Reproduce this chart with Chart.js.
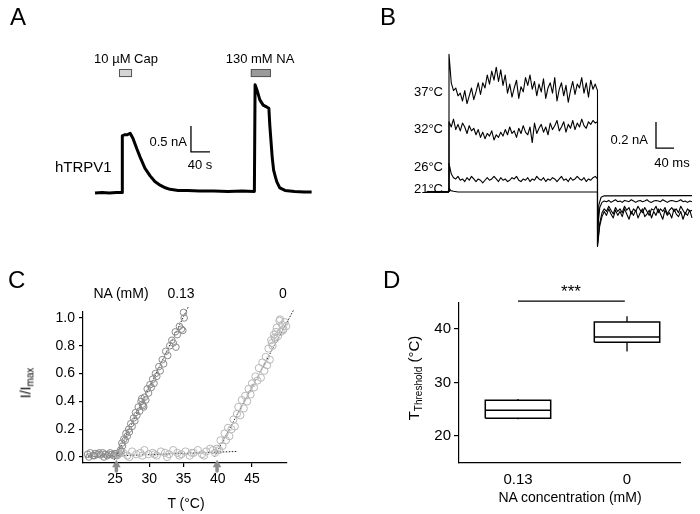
<!DOCTYPE html>
<html>
<head>
<meta charset="utf-8">
<script src="https://cdn.jsdelivr.net/npm/chart.js@4"></script>
<style>
  body { margin: 0; background: #fff; font-family: 'Liberation Sans', Arial, sans-serif; }
  #fig { position: relative; width: 700px; height: 514px; overflow: hidden; }
  canvas { position: absolute; }
  .t { position: absolute; line-height: 1; white-space: nowrap; color: #000; }
  sub { font-size: 10px; vertical-align: -3px; }
</style>
</head>
<body>
<div id="fig">
  <canvas id="chartA" width="350" height="240" style="left:0;top:0"></canvas>
  <canvas id="chartB" width="350" height="252" style="left:350px;top:0"></canvas>
  <canvas id="chartC" width="350" height="264" style="left:0;top:250px"></canvas>
  <canvas id="chartD" width="350" height="264" style="left:350px;top:250px"></canvas>
</div>
<script>
// ---- Panel A: whole-cell current trace (s, nA)
const aTime = [0, 15, 30, 45, 57, 57.5, 62, 68, 74, 80, 88, 95, 105, 116, 126, 137, 148, 158, 175, 195,
  220, 250, 280, 310, 334, 335.5, 337, 342, 347, 354, 360, 366, 368, 373, 376, 380, 383, 389, 400, 420, 440, 456];
const aCur = [0.0, 0.01, 0.0, 0.01, 0.01, 1.1, 1.12, 1.12, 1.15, 1.05, 0.85, 0.69, 0.48, 0.33, 0.22, 0.15, 0.1, 0.07, 0.05, 0.05,
  0.04, 0.04, 0.03, 0.04, 0.03, 0.03, 2.08, 1.95, 1.79, 1.69, 1.66, 1.63, 1.3, 0.69, 0.44, 0.3, 0.21, 0.1, 0.05, 0.03, 0.02, 0.02];
const aAppStart = [50.5, 328];
const aAppEnd = [78, 370.5];
const aAppColor = ['#d4d4d4', '#9a9a9a'];
const aScaleBar = { t: 202, i: 0.79, dt: 40, di: 0.5 };

// ---- Panel B: current traces during a voltage step (ms, nA)
const bDt = 5;
const bStepEnd = 330;
const bHoldT = [-50, 0];
const bHoldI = [0, 0];
const b37On = [1.06, 0.84, 0.78, 0.80, 0.74, 0.76, 0.70, 0.78, 0.68, 0.74,
  0.80, 0.71, 0.77, 0.84, 0.75, 0.84, 0.80, 0.90, 0.83, 0.93,
  0.86, 0.96, 0.85, 0.94, 0.82, 0.90, 0.76, 0.83, 0.73, 0.80,
  0.86, 0.72, 0.81, 0.77, 0.88, 0.82, 0.90, 0.79, 0.85, 0.74,
  0.83, 0.77, 0.87, 0.72, 0.80, 0.84, 0.76, 0.88, 0.70, 0.79,
  0.84, 0.74, 0.82, 0.69, 0.78, 0.85, 0.75, 0.83, 0.80, 0.88,
  0.76, 0.84, 0.73, 0.86, 0.79, 0.83, 0.78];
const b32On = [0.54, 0.50, 0.56, 0.48, 0.52, 0.47, 0.53, 0.50, 0.45, 0.51,
  0.47, 0.49, 0.44, 0.48, 0.42, 0.46, 0.41, 0.45, 0.43, 0.47,
  0.40, 0.44, 0.42, 0.46, 0.43, 0.48, 0.44, 0.50, 0.45, 0.47,
  0.42, 0.49, 0.45, 0.51, 0.46, 0.44, 0.50, 0.38, 0.53, 0.45,
  0.49, 0.52, 0.46, 0.50, 0.44, 0.53, 0.48, 0.51, 0.55, 0.47,
  0.50, 0.54, 0.46, 0.52, 0.49, 0.55, 0.48, 0.53, 0.50, 0.56,
  0.51, 0.49, 0.54, 0.52, 0.55, 0.53, 0.54];
const b26On = [0.22, 0.14, 0.11, 0.10, 0.12, 0.09, 0.10, 0.08, 0.11, 0.09,
  0.12, 0.10, 0.08, 0.10, 0.09, 0.07, 0.09, 0.11, 0.09, 0.10,
  0.12, 0.10, 0.08, 0.11, 0.09, 0.10, 0.08, 0.09, 0.11, 0.10,
  0.12, 0.09, 0.08, 0.10, 0.09, 0.11, 0.08, 0.10, 0.09, 0.12,
  0.10, 0.09, 0.11, 0.08, 0.10, 0.09, 0.11, 0.10, 0.08, 0.10,
  0.12, 0.09, 0.10, 0.08, 0.11, 0.09, 0.10, 0.12, 0.10, 0.09,
  0.11, 0.08, 0.10, 0.09, 0.11, 0.12, 0.10];
const b37Tail = [-0.42, -0.26, -0.19, -0.15, -0.18, -0.13, -0.17, -0.20, -0.14, -0.18,
  -0.15, -0.19, -0.13, -0.17, -0.21, -0.15, -0.18, -0.14, -0.20, -0.16,
  -0.13, -0.19, -0.17, -0.14, -0.20, -0.15, -0.18, -0.13, -0.17, -0.21,
  -0.14, -0.18, -0.16, -0.20, -0.13, -0.17, -0.19, -0.15, -0.21, -0.16,
  -0.18, -0.14, -0.20];
const b32Tail = [-0.40, -0.24, -0.16, -0.13, -0.15, -0.11, -0.14, -0.17, -0.12, -0.15,
  -0.13, -0.16, -0.11, -0.14, -0.12, -0.17, -0.13, -0.15, -0.11, -0.14,
  -0.16, -0.12, -0.15, -0.18, -0.13, -0.14, -0.11, -0.16, -0.13, -0.15,
  -0.12, -0.17, -0.14, -0.12, -0.15, -0.13, -0.16, -0.11, -0.14, -0.17,
  -0.13, -0.15, -0.14];
const b26Tail = [-0.30, -0.12, -0.08, -0.07, -0.075, -0.065, -0.08, -0.07, -0.06, -0.075,
  -0.07, -0.08, -0.065, -0.07, -0.075, -0.06, -0.07, -0.08, -0.07, -0.065,
  -0.075, -0.07, -0.06, -0.075, -0.08, -0.07, -0.065, -0.07, -0.075, -0.06,
  -0.07, -0.08, -0.07, -0.065, -0.07, -0.075, -0.07, -0.06, -0.075, -0.07,
  -0.08, -0.07, -0.075];
const b21T = [0, 0, 4, 10, 20, 330, 330, 333, 338, 345, 540];
const b21I = [0, 0.03, 0.01, 0.005, 0, 0, -0.42, -0.1, -0.04, -0.03, -0.028];
const bScaleBar = { t: 460, i: 0.338, dt: 40, di: 0.2 };

// ---- Panel C: normalised current vs temperature
const cLoT = [21.0, 21.4, 21.8, 22.1, 22.5, 22.9, 23.2, 23.6, 23.9, 24.3, 24.6, 25.0, 25.3, 25.6, 25.9, 21.2, 22.0, 22.7, 23.4, 24.1, 24.8, 25.5];
const cLoI = [0.02, 0.03, 0.01, 0.025, 0.02, 0.015, 0.03, 0.02, 0.01, 0.03, 0.02, 0.025, 0.01, 0.03, 0.04, 0.0, 0.01, 0.03, 0.0, 0.02, 0.01, 0.02];
const cNaT = [25.8, 26.0, 26.1, 26.3, 26.5, 26.6, 26.8, 27.0, 27.1, 27.3, 27.5, 27.7, 27.9, 28.0, 28.2, 28.4, 28.6, 28.8, 29.0, 29.1,
  29.3, 29.5, 29.7, 29.9, 30.1, 30.3, 30.5, 30.7, 30.9, 31.1, 31.4, 31.6, 31.9, 32.1, 32.4, 32.7, 33.0, 33.3, 33.5, 33.8,
  34.1, 34.4, 34.7, 35.0, 35.1, 34.9, 33.9, 29.2, 28.9];
const cNaI = [0.05, 0.10, 0.08, 0.13, 0.12, 0.17, 0.15, 0.20, 0.18, 0.24, 0.22, 0.28, 0.26, 0.32, 0.30, 0.36, 0.33, 0.40, 0.38, 0.37,
  0.43, 0.41, 0.49, 0.46, 0.52, 0.50, 0.56, 0.53, 0.60, 0.58, 0.65, 0.62, 0.70, 0.67, 0.76, 0.73, 0.80, 0.84, 0.82, 0.90,
  0.88, 0.94, 0.92, 1.04, 1.00, 0.91, 0.79, 0.36, 0.42];
const cCtlBaseT = [25.5, 26.2, 26.8, 27.5, 28.1, 28.7, 29.3, 29.9, 30.5, 31.1, 31.7, 32.3, 32.9, 33.5, 34.1, 34.7, 35.3, 35.9, 36.5, 37.1,
  37.7, 38.3, 38.9, 39.3, 27.1, 29.0, 30.8, 32.6, 34.4, 36.2, 38.0];
const cCtlBaseI = [0.02, 0.03, 0.01, 0.04, 0.02, 0.03, 0.05, 0.02, 0.03, 0.01, 0.04, 0.03, 0.02, 0.05, 0.03, 0.02, 0.04, 0.01, 0.03, 0.05,
  0.02, 0.04, 0.06, 0.05, 0.0, 0.01, 0.02, 0.0, 0.01, 0.03, 0.01];
const cCtlT = [39.6, 39.9, 40.2, 40.4, 40.7, 41.0, 41.2, 41.5, 41.7, 42.0, 42.3, 42.5, 42.8, 43.0, 43.3, 43.5, 43.8, 44.0, 44.3, 44.5,
  44.8, 45.0, 45.3, 45.5, 45.8, 46.0, 46.3, 46.5, 46.8, 47.0, 47.2, 47.4, 47.6, 47.8, 48.0, 48.2, 48.4, 48.6, 48.8, 49.0,
  49.2, 49.4, 49.6, 49.8, 50.0, 48.5, 47.9, 49.1, 48.3, 49.5];
const cCtlI = [0.03, 0.06, 0.05, 0.12, 0.08, 0.17, 0.12, 0.21, 0.15, 0.20, 0.27, 0.22, 0.31, 0.36, 0.30, 0.41, 0.35, 0.44, 0.40, 0.49,
  0.45, 0.53, 0.50, 0.58, 0.55, 0.64, 0.57, 0.68, 0.62, 0.72, 0.66, 0.78, 0.70, 0.84, 0.80, 0.88, 0.85, 0.93, 0.87, 0.98,
  0.90, 0.95, 0.92, 0.97, 0.94, 0.90, 0.82, 0.99, 0.86, 0.91];
const cFitNaT = [24.9, 35.7];
const cFitNaI = [-0.02, 1.08];
const cFitCtlT = [39.5, 51.1];
const cFitCtlI = [0.0, 1.06];
const cBaseFitT = [20.6, 42.8];
const cBaseFitI = [0.0, 0.04];
const cThreshold = [25.2, 39.9];
const cXTicks = [25, 30, 35, 40, 45];
const cYTicks = [0, 0.2, 0.4, 0.6, 0.8, 1.0];

// ---- Panel D: threshold temperature box plots
const dCats = ['0.13', '0'];
const dMin = [23.2, 35.9];
const dQ1 = [23.3, 37.5];
const dMed = [24.8, 38.5];
const dQ3 = [26.7, 41.3];
const dMax = [26.9, 42.4];
const dYTicks = [20, 30, 40];
const dSigX = [0, 0.98];
const dSigY = 45.2;

Chart.defaults.font.family = "'Liberation Sans', Arial, sans-serif";
Chart.defaults.color = '#000';
Chart.defaults.animation = false;

const zip = (xs, ys) => xs.map((x, i) => ({ x: x, y: ys[i] }));

function lineSet(points, opts = {}) {
  return Object.assign({
    data: points, showLine: true, pointRadius: 0, borderColor: '#000',
    borderWidth: 1, tension: 0, clip: false, borderJoinStyle: 'round'
  }, opts);
}

function scaleBarSets(sb, width) {
  return [
    lineSet([{ x: sb.t, y: sb.i + sb.di }, { x: sb.t, y: sb.i }, { x: sb.t + sb.dt, y: sb.i }], { borderWidth: width, borderJoinStyle: 'miter' })
  ];
}

const baseOpts = (xr, yr) => ({
  responsive: false,
  events: [],
  layout: { padding: 0 },
  plugins: { legend: { display: false }, tooltip: { enabled: false } },
  scales: {
    x: { type: 'linear', display: false, min: xr[0], max: xr[1] },
    y: { type: 'linear', display: false, min: yr[0], max: yr[1] }
  }
});

// application bars drawn through the x / y scales
const appBars = {
  id: 'appBars',
  afterDatasetsDraw(chart) {
    const { ctx, scales } = chart;
    aAppStart.forEach((s, i) => {
      const x0 = scales.x.getPixelForValue(s);
      const x1 = scales.x.getPixelForValue(aAppEnd[i]);
      const y0 = scales.y.getPixelForValue(2.385);
      const y1 = scales.y.getPixelForValue(2.23);
      ctx.save();
      ctx.fillStyle = aAppColor[i];
      ctx.strokeStyle = '#555';
      ctx.lineWidth = 1;
      ctx.fillRect(x0, y0, x1 - x0, y1 - y0);
      ctx.strokeRect(x0 + 0.5, y0 + 0.5, x1 - x0 - 1, y1 - y0 - 1);
      ctx.restore();
    });
  }
};

// Panel A
new Chart(document.getElementById('chartA'), {
  type: 'scatter',
  data: {
    datasets: [
      lineSet(zip(aTime, aCur), { borderWidth: 3 }),
      ...scaleBarSets(aScaleBar, 1.3)
    ]
  },
  options: baseOpts([-200, 536.8], [-0.904, 3.712]),
  plugins: [appBars]
});

// Panel B
function stepTrace(onVals, tailVals) {
  const pts = [{ x: 0, y: 0 }];
  onVals.forEach((v, i) => pts.push({ x: i * bDt, y: v }));
  tailVals.forEach((v, i) => pts.push({ x: bStepEnd + i * bDt, y: v }));
  return pts;
}

new Chart(document.getElementById('chartB'), {
  type: 'scatter',
  data: {
    datasets: [
      lineSet(zip(bHoldT, bHoldI), { borderWidth: 2 }),
      lineSet(zip(b21T, b21I), { borderWidth: 1.1 }),
      lineSet(stepTrace(b26On, b26Tail), { borderWidth: 1.1 }),
      lineSet(stepTrace(b32On, b32Tail), { borderWidth: 1.1 }),
      lineSet(stepTrace(b37On, b37Tail), { borderWidth: 1.1 }),
      ...scaleBarSets(bScaleBar, 1.3)
    ]
  },
  options: baseOpts([-220, 557.8], [-0.462, 1.477])
});

// Panel C
const axisFont = { size: 14 };
new Chart(document.getElementById('chartC'), {
  type: 'scatter',
  data: {
    datasets: [
      { data: zip(cCtlBaseT, cCtlBaseI), pointRadius: 3.6, borderWidth: 1, borderColor: '#b8b8b8', backgroundColor: 'rgba(0,0,0,0)', clip: false },
      { data: zip(cCtlT, cCtlI), pointRadius: 3.6, borderWidth: 1, borderColor: '#b8b8b8', backgroundColor: 'rgba(0,0,0,0)', clip: false },
      { data: zip(cLoT, cLoI), pointRadius: 3.3, borderWidth: 1, borderColor: '#8a8a8a', backgroundColor: 'rgba(0,0,0,0)', clip: false },
      { data: zip(cNaT, cNaI), pointRadius: 3.3, borderWidth: 1, borderColor: '#8a8a8a', backgroundColor: 'rgba(0,0,0,0)', clip: false },
      lineSet(zip(cBaseFitT, cBaseFitI), { borderDash: [1.5, 1.5], borderColor: '#222' }),
      lineSet(zip(cFitNaT, cFitNaI), { borderDash: [1.5, 1.5], borderColor: '#222' }),
      lineSet(zip(cFitCtlT, cFitCtlI), { borderDash: [1.5, 1.5], borderColor: '#222' }),
      ...cThreshold.map(t => lineSet([{ x: t, y: -0.075 }, { x: t, y: -0.1 }], { borderWidth: 3.5, borderColor: '#8c8c8c', borderCapStyle: 'butt' })),
      { data: cThreshold.map(t => ({ x: t, y: -0.055 })), pointStyle: 'triangle', pointRadius: 5, borderWidth: 0, backgroundColor: '#8c8c8c', clip: false }
    ]
  },
  options: {
    responsive: false,
    events: [],
    layout: { padding: { left: 0, right: 63, top: 62, bottom: 0 } },
    plugins: { legend: { display: false }, tooltip: { enabled: false } },
    scales: {
      x: {
        type: 'linear', min: 20.33, max: 50.11,
        afterBuildTicks: s => { s.ticks = cXTicks.map(v => ({ value: v })); },
        afterFit: s => { s.height = 51; },
        border: { color: '#000', width: 1.2 },
        grid: { drawOnChartArea: false, drawTicks: true, tickLength: 4, color: '#000', lineWidth: 1.2 },
        ticks: { font: axisFont, padding: 4, maxRotation: 0, autoSkip: false, color: '#000' }
      },
      y: {
        type: 'linear', min: -0.043, max: 1.043,
        afterBuildTicks: s => { s.ticks = cYTicks.map(v => ({ value: v })); },
        afterFit: s => { s.width = 83; },
        border: { color: '#000', width: 1.2 },
        grid: { drawOnChartArea: false, drawTicks: true, tickLength: 4, color: '#000', lineWidth: 1.2 },
        ticks: { font: axisFont, padding: 4, color: '#000', callback: v => v.toFixed(1) }
      }
    }
  }
});

// Panel D
const boxHalf = 0.3;
const boxSets = [];
dCats.forEach((c, i) => {
  boxSets.push(lineSet([
    { x: i - boxHalf, y: dQ1[i] }, { x: i + boxHalf, y: dQ1[i] }, { x: i + boxHalf, y: dQ3[i] },
    { x: i - boxHalf, y: dQ3[i] }, { x: i - boxHalf, y: dQ1[i] }
  ], { borderWidth: 1.5, borderJoinStyle: 'miter' }));
  boxSets.push(lineSet([{ x: i - boxHalf, y: dMed[i] }, { x: i + boxHalf, y: dMed[i] }], { borderWidth: 1.5 }));
  boxSets.push(lineSet([{ x: i, y: dQ3[i] }, { x: i, y: dMax[i] }], { borderWidth: 1.3 }));
  boxSets.push(lineSet([{ x: i, y: dQ1[i] }, { x: i, y: dMin[i] }], { borderWidth: 1.3 }));
});
boxSets.push(lineSet(dSigX.map(x => ({ x: x, y: dSigY })), { borderWidth: 1.3 }));

new Chart(document.getElementById('chartD'), {
  type: 'scatter',
  data: { datasets: boxSets },
  options: {
    responsive: false,
    events: [],
    layout: { padding: { left: 0, right: 20, top: 53, bottom: 0 } },
    plugins: { legend: { display: false }, tooltip: { enabled: false } },
    scales: {
      x: {
        type: 'linear', min: -0.541, max: 1.486,
        afterBuildTicks: s => { s.ticks = dCats.map((c, i) => ({ value: i })); },
        afterFit: s => { s.height = 51; },
        border: { color: '#000', width: 1.2 },
        grid: { display: false },
        ticks: { font: { size: 15 }, padding: 0, maxRotation: 0, autoSkip: false, color: '#000', callback: v => dCats[v] }
      },
      y: {
        type: 'linear', min: 14.95, max: 44.86,
        afterBuildTicks: s => { s.ticks = dYTicks.map(v => ({ value: v })); },
        afterFit: s => { s.width = 109; },
        border: { color: '#000', width: 1.2 },
        grid: { drawOnChartArea: false, drawTicks: true, tickLength: 5, color: '#000', lineWidth: 1.2 },
        ticks: { font: { size: 15 }, padding: 3, color: '#000' }
      }
    }
  }
});

// ---- text labels
const fig = document.getElementById('fig');
function label(html, x, y, size, align = 'center') {
  const d = document.createElement('div');
  d.className = 't';
  d.innerHTML = html;
  d.style.left = x + 'px';
  d.style.top = y + 'px';
  d.style.fontSize = size + 'px';
  const tx = align === 'center' ? '-50%' : align === 'right' ? '-100%' : '0';
  d.style.transform = `translate(${tx}, -50%)`;
  fig.appendChild(d);
  return d;
}

label('A', 10, 17, 24, 'left');
label('B', 380, 17, 24, 'left');
label('C', 8, 280, 24, 'left');
label('D', 383, 280, 24, 'left');

label('10 µM Cap', 126, 58, 13);
label('130 mM NA', 260, 58, 13);
label('0.5 nA', 187, 141, 13, 'right');
label('40 s', 200, 164, 13);
label('hTRPV1', 55, 166, 15, 'left');

label('37°C', 443, 91, 13, 'right');
label('32°C', 443, 128, 13, 'right');
label('26°C', 443, 166, 13, 'right');
label('21°C', 443, 188, 13, 'right');
label('0.2 nA', 648, 139, 13, 'right');
label('40 ms', 672, 162, 13);

label('NA (mM)', 121, 293, 14);
label('0.13', 181, 293, 14);
label('0', 283, 293, 14);
label('T (°C)', 186, 503, 14);
const yc = label('I/I<sub>max</sub>', 27, 383, 14);
yc.style.transform = 'translate(-50%, -50%) rotate(-90deg)';

label('***', 571, 291, 17);
label('NA concentration (mM)', 570, 497, 14);
const yd = label('T<sub>Threshold</sub> (°C)', 415, 378, 15);
yd.style.transform = 'translate(-50%, -50%) rotate(-90deg)';
</script>
</body>
</html>
